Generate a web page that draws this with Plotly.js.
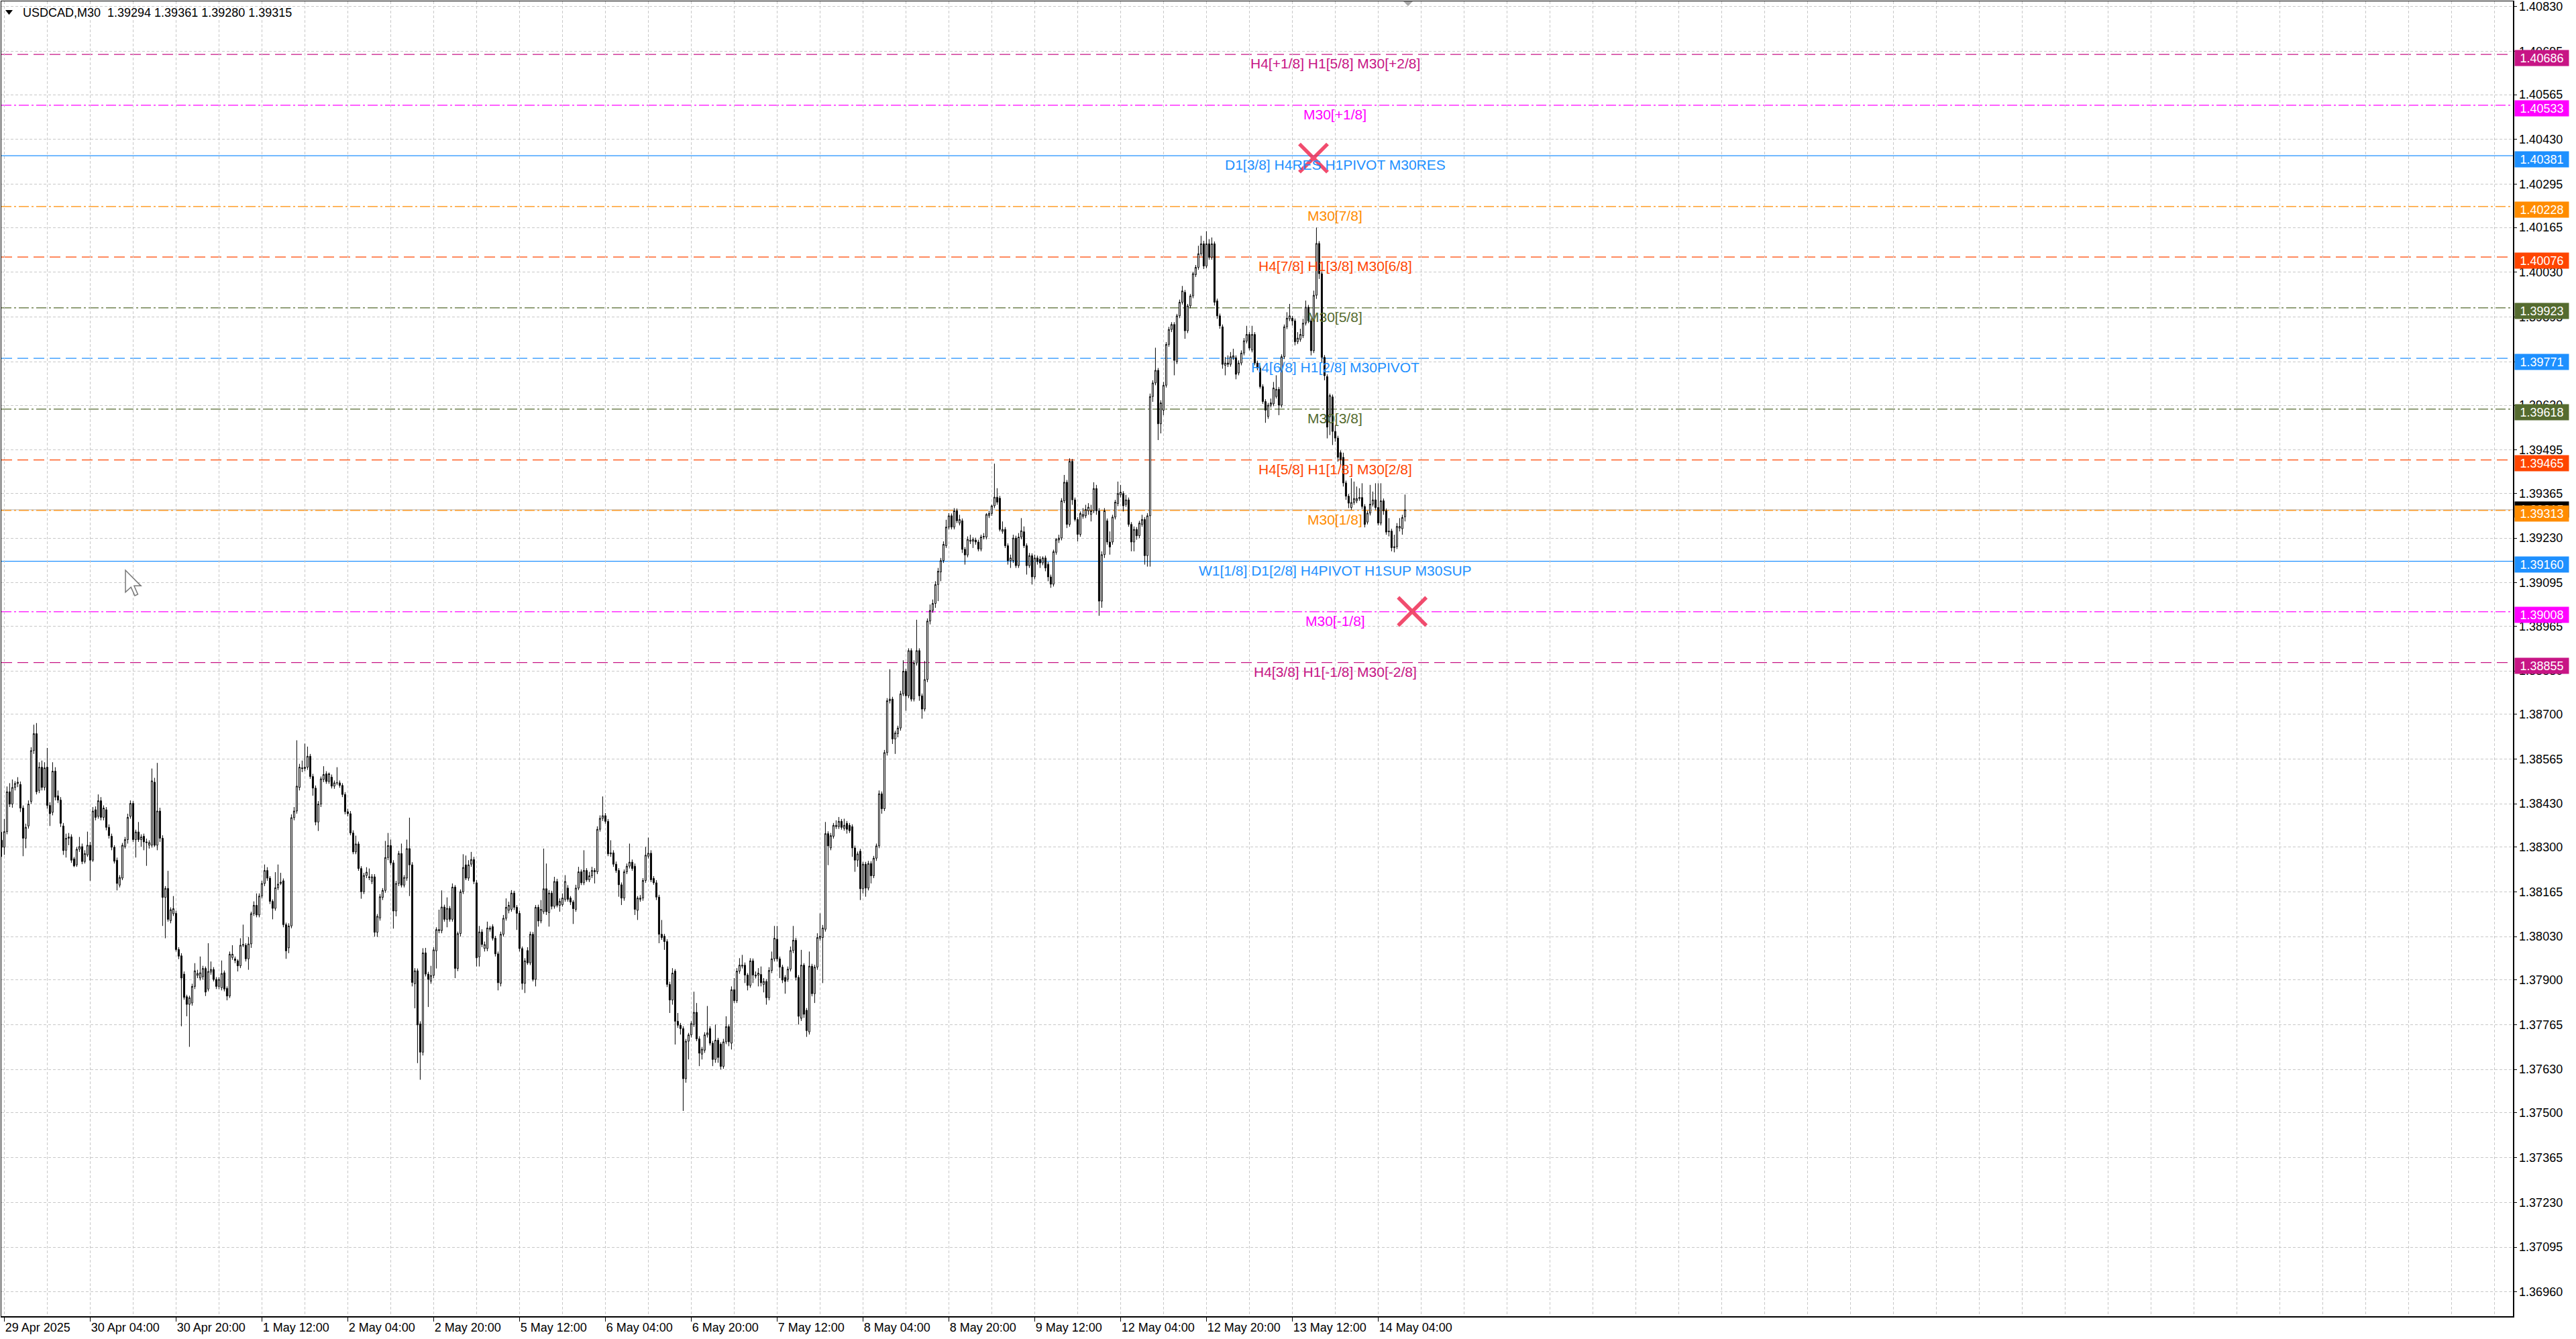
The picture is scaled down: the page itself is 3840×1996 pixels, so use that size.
<!DOCTYPE html>
<html>
<head>
<meta charset="utf-8">
<script src="https://cdn.plot.ly/plotly-3.0.1.min.js"></script>
<style>
  html, body { margin: 0; padding: 0; background: #ffffff; }
  #chart { width: 3840px; height: 1996px; }
</style>
</head>
<body>
<div id="chart"></div>
<script>
// ---------------- DATA (USDCAD, M30) ----------------
const symbolName = 'USDCAD,M30';

const openP = [
1.38320,1.38299,1.38346,1.38466,1.38429,1.38479,1.38491,1.38488,1.38417,1.38326,
1.38363,1.38437,1.38590,1.38641,1.38470,1.38540,1.38479,1.38540,1.38425,1.38404,
1.38528,1.38454,1.38441,1.38363,1.38290,1.38326,1.38330,1.38264,1.38246,1.38293,
1.38301,1.38256,1.38276,1.38305,1.38260,1.38412,1.38392,1.38439,1.38389,1.38412,
1.38359,1.38332,1.38299,1.38260,1.38185,1.38206,1.38301,1.38322,1.38392,1.38431,
1.38322,1.38345,1.38322,1.38332,1.38315,1.38305,1.38305,1.38495,1.38305,1.38408,
1.38326,1.38148,1.38175,1.38078,1.38099,1.38100,1.37991,1.37972,1.37917,1.37849,
1.37826,1.37830,1.37880,1.37913,1.37905,1.37909,1.37934,1.37872,1.37923,1.37931,
1.37901,1.37880,1.37876,1.37921,1.37874,1.37851,1.37967,1.37963,1.37957,1.37942,
1.38004,1.38004,1.37963,1.38008,1.38099,1.38124,1.38095,1.38152,1.38190,1.38229,
1.38206,1.38136,1.38115,1.38177,1.38190,1.38198,1.38066,1.37996,1.38062,1.38388,
1.38408,1.38479,1.38538,1.38536,1.38540,1.38573,1.38512,1.38477,1.38375,1.38429,
1.38503,1.38520,1.38497,1.38510,1.38483,1.38493,1.38493,1.38485,1.38458,1.38406,
1.38400,1.38342,1.38285,1.38309,1.38235,1.38165,1.38214,1.38210,1.38196,1.38210,
1.38043,1.38086,1.38148,1.38169,1.38268,1.38304,1.38252,1.38107,1.38190,1.38280,
1.38185,1.38206,1.38295,1.38246,1.37888,1.37927,1.37767,1.37682,1.37981,1.37917,
1.37896,1.37913,1.37987,1.38051,1.38048,1.38119,1.38082,1.38115,1.38082,1.38179,
1.37934,1.38039,1.38165,1.38246,1.38206,1.38248,1.38262,1.38192,1.37969,1.38044,
1.37994,1.37994,1.38052,1.38060,1.38025,1.37978,1.37889,1.38037,1.38085,1.38109,
1.38112,1.38161,1.38118,1.38100,1.37994,1.37889,1.37988,1.37951,1.38037,1.37901,
1.38118,1.38077,1.38105,1.38174,1.38102,1.38161,1.38121,1.38196,1.38124,1.38126,
1.38142,1.38176,1.38146,1.38134,1.38112,1.38176,1.38225,1.38192,1.38229,1.38201,
1.38213,1.38229,1.38225,1.38353,1.38386,1.38394,1.38377,1.38279,1.38282,1.38248,
1.38229,1.38186,1.38146,1.38225,1.38242,1.38254,1.38242,1.38109,1.38142,1.38146,
1.38199,1.38272,1.38281,1.38205,1.38192,1.38149,1.38037,1.38031,1.38015,1.37886,
1.37839,1.37926,1.37775,1.37763,1.37753,1.37602,1.37715,1.37734,1.37765,1.37802,
1.37722,1.37676,1.37688,1.37734,1.37753,1.37709,1.37660,1.37718,1.37706,1.37639,
1.37713,1.37759,1.37709,1.37870,1.37837,1.37926,1.37941,1.37944,1.37914,1.37883,
1.37957,1.37911,1.37914,1.37916,1.37886,1.37895,1.37846,1.37928,1.37963,1.38022,
1.37963,1.37938,1.37907,1.37901,1.37932,1.37988,1.38019,1.37907,1.37784,1.37944,
1.37808,1.37743,1.37941,1.37858,1.37938,1.38025,1.38027,1.38052,1.38340,1.38297,
1.38332,1.38361,1.38361,1.38377,1.38356,1.38371,1.38365,1.38361,1.38297,1.38260,
1.38287,1.38174,1.38248,1.38176,1.38250,1.38213,1.38266,1.38303,1.38460,1.38415,
1.38584,1.38740,1.38745,1.38625,1.38641,1.38658,1.38761,1.38829,1.38755,1.38891,
1.38745,1.38854,1.38891,1.38755,1.38715,1.38804,1.38980,1.39012,1.39033,1.39090,
1.39128,1.39162,1.39207,1.39263,1.39297,1.39263,1.39312,1.39275,1.39282,1.39196,
1.39179,1.39220,1.39220,1.39224,1.39218,1.39197,1.39233,1.39233,1.39297,1.39304,
1.39327,1.39353,1.39350,1.39250,1.39256,1.39207,1.39162,1.39162,1.39230,1.39147,
1.39233,1.39249,1.39207,1.39147,1.39177,1.39113,1.39170,1.39166,1.39155,1.39170,
1.39151,1.39113,1.39091,1.39187,1.39224,1.39230,1.39342,1.39398,1.39271,1.39461,
1.39345,1.39286,1.39241,1.39295,1.39297,1.39312,1.39301,1.39312,1.39379,1.39312,
1.39040,1.39180,1.39282,1.39218,1.39218,1.39293,1.39334,1.39360,1.39364,1.39331,
1.39345,1.39271,1.39218,1.39256,1.39237,1.39271,1.39286,1.39177,1.39297,1.39656,
1.39697,1.39735,1.39574,1.39615,1.39690,1.39813,1.39858,1.39873,1.39761,1.39899,
1.39940,1.39970,1.39854,1.39929,1.39959,1.40023,1.40045,1.40086,1.40116,1.40049,
1.40116,1.40075,1.40116,1.39944,1.39899,1.39866,1.39750,1.39757,1.39753,1.39773,
1.39773,1.39727,1.39757,1.39787,1.39823,1.39843,1.39796,1.39843,1.39757,1.39742,
1.39686,1.39641,1.39596,1.39630,1.39634,1.39656,1.39678,1.39630,1.39776,1.39866,
1.39890,1.39892,1.39884,1.39821,1.39828,1.39839,1.39877,1.39925,1.39884,1.39794,
1.39961,1.40117,1.40026,1.39774,1.39716,1.39595,1.39655,1.39551,1.39531,1.39487,
1.39473,1.39396,1.39356,1.39322,1.39337,1.39342,1.39349,1.39352,1.39325,1.39278,
1.39305,1.39332,1.39345,1.39322,1.39275,1.39342,1.39312,1.39251,1.39251,1.39201,
1.39204,1.39260,1.39258,1.39294
];

const highP = [
1.38345,1.38384,1.38482,1.38492,1.38503,1.38498,1.38510,1.38497,1.38425,1.38370,
1.38440,1.38600,1.38668,1.38673,1.38555,1.38560,1.38555,1.38598,1.38435,1.38555,
1.38540,1.38470,1.38450,1.38372,1.38340,1.38342,1.38338,1.38270,1.38300,1.38330,
1.38310,1.38290,1.38346,1.38315,1.38420,1.38422,1.38458,1.38450,1.38425,1.38420,
1.38368,1.38340,1.38305,1.38268,1.38215,1.38312,1.38330,1.38400,1.38440,1.38438,
1.38352,1.38375,1.38338,1.38340,1.38325,1.38320,1.38536,1.38508,1.38553,1.38418,
1.38335,1.38182,1.38228,1.38118,1.38152,1.38108,1.37998,1.37980,1.37925,1.37855,
1.37852,1.37888,1.37950,1.37930,1.37970,1.37942,1.37940,1.38010,1.37955,1.37938,
1.37908,1.37908,1.37958,1.37928,1.37880,1.37985,1.38004,1.37970,1.37962,1.38025,
1.38066,1.38010,1.38029,1.38105,1.38136,1.38160,1.38160,1.38198,1.38247,1.38239,
1.38212,1.38142,1.38224,1.38247,1.38222,1.38205,1.38072,1.38070,1.38398,1.38420,
1.38621,1.38550,1.38560,1.38611,1.38602,1.38580,1.38520,1.38485,1.38438,1.38512,
1.38543,1.38528,1.38524,1.38518,1.38500,1.38540,1.38500,1.38492,1.38465,1.38415,
1.38408,1.38350,1.38334,1.38316,1.38242,1.38222,1.38239,1.38235,1.38218,1.38218,
1.38098,1.38158,1.38176,1.38318,1.38342,1.38322,1.38260,1.38198,1.38288,1.38310,
1.38215,1.38322,1.38388,1.38254,1.37935,1.37934,1.37775,1.37995,1.37996,1.37924,
1.37942,1.37998,1.38058,1.38111,1.38169,1.38126,1.38148,1.38122,1.38190,1.38185,
1.38045,1.38172,1.38278,1.38274,1.38260,1.38285,1.38270,1.38200,1.38062,1.38052,
1.38015,1.38075,1.38062,1.38067,1.38032,1.37985,1.38045,1.38095,1.38145,1.38135,
1.38170,1.38168,1.38125,1.38108,1.38000,1.37965,1.37998,1.38045,1.38044,1.38125,
1.38126,1.38140,1.38295,1.38250,1.38170,1.38168,1.38210,1.38204,1.38145,1.38160,
1.38215,1.38185,1.38152,1.38140,1.38186,1.38240,1.38232,1.38290,1.38236,1.38225,
1.38240,1.38236,1.38362,1.38395,1.38452,1.38402,1.38384,1.38320,1.38290,1.38256,
1.38236,1.38193,1.38232,1.38250,1.38310,1.38262,1.38250,1.38152,1.38155,1.38206,
1.38300,1.38328,1.38290,1.38212,1.38200,1.38156,1.38080,1.38038,1.38022,1.37894,
1.37935,1.37932,1.37800,1.37770,1.37760,1.37722,1.37740,1.37775,1.37864,1.37830,
1.37730,1.37698,1.37742,1.37821,1.37760,1.37716,1.37765,1.37725,1.37712,1.37722,
1.37790,1.37766,1.37880,1.37905,1.37935,1.37965,1.37975,1.37952,1.37920,1.37965,
1.37964,1.37925,1.37935,1.37940,1.37905,1.37902,1.37938,1.37985,1.38062,1.38062,
1.37970,1.37945,1.37914,1.37940,1.38000,1.38062,1.38026,1.37914,1.37990,1.37950,
1.37815,1.37985,1.37948,1.37945,1.38040,1.38100,1.38065,1.38375,1.38347,1.38342,
1.38372,1.38380,1.38390,1.38384,1.38385,1.38378,1.38372,1.38368,1.38304,1.38286,
1.38294,1.38255,1.38255,1.38258,1.38257,1.38273,1.38310,1.38470,1.38467,1.38592,
1.38748,1.38835,1.38752,1.38650,1.38665,1.38770,1.38862,1.38836,1.38898,1.38898,
1.38862,1.38984,1.38898,1.38762,1.38860,1.38988,1.39030,1.39045,1.39100,1.39140,
1.39170,1.39220,1.39285,1.39305,1.39304,1.39320,1.39319,1.39300,1.39289,1.39203,
1.39235,1.39240,1.39232,1.39231,1.39225,1.39240,1.39245,1.39305,1.39312,1.39330,
1.39454,1.39380,1.39357,1.39280,1.39263,1.39214,1.39180,1.39240,1.39237,1.39245,
1.39290,1.39265,1.39214,1.39185,1.39184,1.39180,1.39177,1.39175,1.39175,1.39177,
1.39158,1.39120,1.39195,1.39230,1.39240,1.39350,1.39420,1.39405,1.39470,1.39468,
1.39352,1.39293,1.39310,1.39320,1.39330,1.39335,1.39330,1.39398,1.39390,1.39320,
1.39190,1.39320,1.39289,1.39250,1.39300,1.39345,1.39400,1.39390,1.39371,1.39360,
1.39352,1.39278,1.39265,1.39263,1.39282,1.39300,1.39293,1.39305,1.39665,1.39705,
1.39803,1.39742,1.39645,1.39700,1.39820,1.39866,1.39880,1.39880,1.39905,1.39948,
1.39989,1.39977,1.39935,1.39965,1.40032,1.40052,1.40110,1.40140,1.40125,1.40154,
1.40130,1.40135,1.40123,1.39951,1.39906,1.39873,1.39775,1.39780,1.39790,1.39800,
1.39780,1.39765,1.39795,1.39832,1.39869,1.39850,1.39869,1.39850,1.39764,1.39749,
1.39693,1.39648,1.39637,1.39650,1.39700,1.39720,1.39685,1.39783,1.39873,1.39910,
1.39935,1.39899,1.39891,1.39850,1.39860,1.39890,1.39945,1.39932,1.39891,1.39975,
1.40165,1.40124,1.40033,1.39781,1.39723,1.39665,1.39662,1.39570,1.39538,1.39494,
1.39487,1.39403,1.39363,1.39410,1.39400,1.39385,1.39380,1.39395,1.39332,1.39312,
1.39390,1.39370,1.39395,1.39395,1.39395,1.39349,1.39319,1.39290,1.39258,1.39240,
1.39275,1.39290,1.39300,1.39361
];

const lowP = [
1.38270,1.38276,1.38338,1.38420,1.38418,1.38470,1.38480,1.38405,1.38272,1.38296,
1.38355,1.38430,1.38580,1.38458,1.38462,1.38470,1.38470,1.38415,1.38363,1.38395,
1.38440,1.38432,1.38360,1.38276,1.38268,1.38305,1.38252,1.38239,1.38240,1.38285,
1.38248,1.38250,1.38270,1.38198,1.38255,1.38380,1.38385,1.38380,1.38380,1.38350,
1.38325,1.38290,1.38250,1.38169,1.38178,1.38200,1.38295,1.38310,1.38385,1.38315,
1.38268,1.38315,1.38300,1.38290,1.38243,1.38295,1.38298,1.38300,1.38290,1.38315,
1.38062,1.38025,1.38075,1.38070,1.38092,1.37985,1.37962,1.37760,1.37840,1.37790,
1.37698,1.37822,1.37872,1.37905,1.37898,1.37900,1.37851,1.37865,1.37915,1.37895,
1.37872,1.37872,1.37868,1.37865,1.37838,1.37845,1.37960,1.37950,1.37925,1.37935,
1.37998,1.37955,1.37930,1.37996,1.38092,1.38088,1.38088,1.38145,1.38182,1.38198,
1.38128,1.38082,1.38108,1.38170,1.38185,1.38058,1.37963,1.37980,1.38055,1.38380,
1.38400,1.38470,1.38525,1.38528,1.38532,1.38505,1.38454,1.38365,1.38348,1.38420,
1.38495,1.38490,1.38490,1.38476,1.38475,1.38486,1.38478,1.38450,1.38398,1.38392,
1.38335,1.38278,1.38278,1.38228,1.38144,1.38158,1.38206,1.38200,1.38188,1.38030,
1.38029,1.38078,1.38140,1.38162,1.38260,1.38245,1.38054,1.38091,1.38182,1.38178,
1.38178,1.38198,1.38152,1.37880,1.37814,1.37649,1.37599,1.37672,1.37910,1.37818,
1.37888,1.37905,1.37934,1.38040,1.38040,1.38075,1.38058,1.38075,1.38075,1.37905,
1.37926,1.38030,1.38158,1.38200,1.38198,1.38240,1.38188,1.37940,1.37940,1.37998,
1.37985,1.37986,1.38045,1.38018,1.37970,1.37868,1.37880,1.38030,1.38078,1.38100,
1.38105,1.38110,1.38050,1.37985,1.37870,1.37860,1.37945,1.37944,1.37895,1.37880,
1.38060,1.38070,1.38098,1.38095,1.38060,1.38112,1.38114,1.38118,1.38105,1.38120,
1.38135,1.38135,1.38125,1.38068,1.38105,1.38170,1.38185,1.38185,1.38195,1.38194,
1.38206,1.38190,1.38218,1.38346,1.38378,1.38370,1.38272,1.38270,1.38240,1.38222,
1.38150,1.38125,1.38138,1.38218,1.38235,1.38228,1.38095,1.38080,1.38135,1.38138,
1.38192,1.38265,1.38194,1.38186,1.38140,1.38010,1.38020,1.37990,1.37878,1.37800,
1.37825,1.37705,1.37755,1.37735,1.37505,1.37590,1.37660,1.37726,1.37758,1.37715,
1.37640,1.37660,1.37680,1.37726,1.37702,1.37640,1.37650,1.37650,1.37630,1.37632,
1.37706,1.37700,1.37690,1.37830,1.37830,1.37918,1.37934,1.37890,1.37868,1.37876,
1.37890,1.37904,1.37880,1.37880,1.37862,1.37825,1.37838,1.37920,1.37955,1.37955,
1.37905,1.37890,1.37858,1.37894,1.37925,1.37980,1.37898,1.37765,1.37776,1.37785,
1.37728,1.37735,1.37850,1.37830,1.37930,1.38018,1.37890,1.38045,1.38245,1.38290,
1.38325,1.38354,1.38354,1.38352,1.38349,1.38340,1.38342,1.38270,1.38225,1.38240,
1.38140,1.38160,1.38150,1.38169,1.38190,1.38206,1.38258,1.38296,1.38400,1.38408,
1.38575,1.38732,1.38610,1.38580,1.38630,1.38650,1.38754,1.38710,1.38748,1.38738,
1.38738,1.38846,1.38740,1.38686,1.38708,1.38796,1.38970,1.39005,1.39020,1.39040,
1.39100,1.39155,1.39200,1.39256,1.39256,1.39256,1.39275,1.39268,1.39185,1.39150,
1.39172,1.39212,1.39200,1.39210,1.39190,1.39190,1.39226,1.39226,1.39290,1.39297,
1.39320,1.39330,1.39250,1.39243,1.39200,1.39150,1.39140,1.39155,1.39140,1.39140,
1.39226,1.39200,1.39120,1.39140,1.39090,1.39106,1.39150,1.39140,1.39148,1.39130,
1.39100,1.39080,1.39084,1.39180,1.39215,1.39223,1.39335,1.39260,1.39264,1.39330,
1.39280,1.39220,1.39234,1.39288,1.39290,1.39300,1.39280,1.39305,1.39300,1.38996,
1.39020,1.39170,1.39210,1.39180,1.39210,1.39286,1.39326,1.39352,1.39310,1.39324,
1.39264,1.39190,1.39190,1.39225,1.39230,1.39264,1.39150,1.39144,1.39144,1.39640,
1.39690,1.39525,1.39545,1.39600,1.39683,1.39806,1.39850,1.39720,1.39754,1.39892,
1.39933,1.39830,1.39847,1.39922,1.39952,1.40016,1.40038,1.40079,1.40040,1.40042,
1.40068,1.40068,1.39930,1.39890,1.39860,1.39740,1.39720,1.39745,1.39746,1.39766,
1.39708,1.39720,1.39750,1.39780,1.39816,1.39795,1.39789,1.39750,1.39735,1.39680,
1.39634,1.39577,1.39589,1.39623,1.39627,1.39650,1.39600,1.39623,1.39769,1.39859,
1.39883,1.39870,1.39810,1.39814,1.39821,1.39832,1.39870,1.39877,1.39780,1.39787,
1.39950,1.40010,1.39760,1.39705,1.39530,1.39540,1.39510,1.39520,1.39460,1.39450,
1.39385,1.39345,1.39320,1.39315,1.39330,1.39335,1.39342,1.39318,1.39262,1.39271,
1.39298,1.39325,1.39315,1.39268,1.39268,1.39300,1.39240,1.39235,1.39190,1.39187,
1.39197,1.39250,1.39240,1.39280
];

const closeP = [
1.38299,1.38346,1.38466,1.38429,1.38479,1.38491,1.38495,1.38417,1.38326,1.38359,
1.38429,1.38590,1.38641,1.38466,1.38540,1.38479,1.38538,1.38425,1.38400,1.38528,
1.38450,1.38441,1.38371,1.38289,1.38326,1.38330,1.38260,1.38243,1.38293,1.38301,
1.38256,1.38280,1.38305,1.38260,1.38408,1.38389,1.38439,1.38389,1.38417,1.38359,
1.38334,1.38299,1.38257,1.38190,1.38208,1.38305,1.38322,1.38389,1.38431,1.38322,
1.38345,1.38322,1.38330,1.38315,1.38313,1.38313,1.38499,1.38305,1.38408,1.38326,
1.38148,1.38175,1.38082,1.38111,1.38114,1.37991,1.37971,1.37905,1.37847,1.37826,
1.37846,1.37880,1.37927,1.37919,1.37921,1.37934,1.37863,1.37925,1.37931,1.37901,
1.37880,1.37901,1.37919,1.37872,1.37851,1.37977,1.37977,1.37958,1.37942,1.38004,
1.38006,1.37963,1.38008,1.38099,1.38124,1.38095,1.38152,1.38190,1.38229,1.38206,
1.38136,1.38115,1.38177,1.38188,1.38194,1.38066,1.37987,1.38062,1.38388,1.38408,
1.38483,1.38540,1.38536,1.38540,1.38573,1.38512,1.38477,1.38375,1.38429,1.38505,
1.38518,1.38497,1.38520,1.38483,1.38493,1.38493,1.38485,1.38458,1.38406,1.38400,
1.38342,1.38285,1.38309,1.38235,1.38165,1.38214,1.38224,1.38208,1.38210,1.38043,
1.38091,1.38150,1.38169,1.38268,1.38304,1.38252,1.38107,1.38190,1.38280,1.38185,
1.38208,1.38295,1.38246,1.37892,1.37927,1.37764,1.37682,1.37981,1.37917,1.37901,
1.37913,1.37990,1.38051,1.38048,1.38119,1.38082,1.38115,1.38082,1.38179,1.37934,
1.38039,1.38165,1.38238,1.38206,1.38246,1.38262,1.38196,1.37966,1.38044,1.38006,
1.38006,1.38056,1.38056,1.38025,1.37978,1.37891,1.38037,1.38085,1.38118,1.38124,
1.38161,1.38118,1.38100,1.37994,1.37889,1.37957,1.37951,1.38037,1.37901,1.38118,
1.38077,1.38112,1.38174,1.38105,1.38161,1.38121,1.38196,1.38124,1.38136,1.38146,
1.38196,1.38142,1.38134,1.38114,1.38176,1.38225,1.38192,1.38229,1.38201,1.38213,
1.38229,1.38225,1.38353,1.38386,1.38394,1.38377,1.38279,1.38282,1.38248,1.38229,
1.38186,1.38146,1.38225,1.38242,1.38254,1.38235,1.38112,1.38146,1.38146,1.38199,
1.38275,1.38281,1.38201,1.38192,1.38149,1.38037,1.38027,1.38015,1.37886,1.37839,
1.37920,1.37775,1.37763,1.37753,1.37602,1.37715,1.37734,1.37768,1.37802,1.37722,
1.37679,1.37691,1.37734,1.37740,1.37709,1.37660,1.37718,1.37666,1.37639,1.37713,
1.37759,1.37713,1.37870,1.37837,1.37926,1.37944,1.37944,1.37914,1.37883,1.37957,
1.37914,1.37914,1.37920,1.37891,1.37895,1.37846,1.37928,1.37963,1.38025,1.37963,
1.37938,1.37899,1.37895,1.37932,1.37988,1.38019,1.37907,1.37790,1.37944,1.37796,
1.37747,1.37941,1.37858,1.37938,1.38027,1.38031,1.38056,1.38340,1.38303,1.38334,
1.38365,1.38365,1.38377,1.38359,1.38365,1.38353,1.38349,1.38297,1.38260,1.38279,
1.38174,1.38248,1.38176,1.38250,1.38213,1.38266,1.38303,1.38460,1.38415,1.38584,
1.38740,1.38745,1.38625,1.38643,1.38658,1.38761,1.38829,1.38755,1.38891,1.38745,
1.38854,1.38891,1.38755,1.38715,1.38804,1.38980,1.39012,1.39033,1.39090,1.39130,
1.39162,1.39211,1.39263,1.39297,1.39263,1.39312,1.39282,1.39286,1.39196,1.39179,
1.39226,1.39224,1.39226,1.39218,1.39197,1.39233,1.39235,1.39301,1.39304,1.39327,
1.39353,1.39338,1.39256,1.39256,1.39207,1.39162,1.39170,1.39230,1.39147,1.39233,
1.39252,1.39207,1.39147,1.39177,1.39113,1.39170,1.39159,1.39155,1.39170,1.39140,
1.39113,1.39091,1.39189,1.39226,1.39230,1.39342,1.39398,1.39271,1.39461,1.39345,
1.39286,1.39241,1.39304,1.39301,1.39316,1.39323,1.39312,1.39379,1.39312,1.39040,
1.39180,1.39312,1.39218,1.39203,1.39293,1.39338,1.39364,1.39368,1.39327,1.39345,
1.39271,1.39218,1.39256,1.39237,1.39275,1.39286,1.39177,1.39297,1.39656,1.39697,
1.39735,1.39574,1.39637,1.39690,1.39813,1.39858,1.39873,1.39765,1.39899,1.39940,
1.39974,1.39854,1.39929,1.39959,1.40026,1.40045,1.40086,1.40116,1.40049,1.40116,
1.40075,1.40116,1.39940,1.39899,1.39869,1.39753,1.39757,1.39753,1.39776,1.39779,
1.39723,1.39757,1.39787,1.39824,1.39843,1.39802,1.39843,1.39757,1.39742,1.39686,
1.39641,1.39615,1.39630,1.39637,1.39682,1.39678,1.39630,1.39776,1.39866,1.39892,
1.39899,1.39884,1.39821,1.39832,1.39843,1.39877,1.39925,1.39884,1.39794,1.39961,
1.40117,1.40026,1.39774,1.39719,1.39564,1.39659,1.39551,1.39531,1.39473,1.39467,
1.39396,1.39356,1.39335,1.39337,1.39349,1.39349,1.39352,1.39325,1.39271,1.39305,
1.39332,1.39345,1.39322,1.39275,1.39342,1.39312,1.39248,1.39249,1.39201,1.39204,
1.39265,1.39265,1.39292,1.39315
];

// time axis labels (one every 32 bars, first label on bar 1)
const timeLabels = ['29 Apr 2025','30 Apr 04:00','30 Apr 20:00','1 May 12:00','2 May 04:00',
  '2 May 20:00','5 May 12:00','6 May 04:00','6 May 20:00','7 May 12:00','8 May 04:00',
  '8 May 20:00','9 May 12:00','12 May 04:00','12 May 20:00','13 May 12:00','14 May 04:00'];

// price scale labels
const priceTicks = [1.40830,1.40695,1.40565,1.40430,1.40295,1.40165,1.40030,1.39895,1.39760,
  1.39630,1.39495,1.39365,1.39230,1.39095,1.38965,1.38830,1.38700,1.38565,1.38430,1.38300,
  1.38165,1.38030,1.37900,1.37765,1.37630,1.37500,1.37365,1.37230,1.37095,1.36960];

// Murrey-math levels
const levelPrices = [1.40686,1.40533,1.40381,1.40228,1.40076,1.39923,1.39771,1.39618,
  1.39465,1.39313,1.39160,1.39008,1.38855];
const levelNames = ['H4[+1/8] H1[5/8] M30[+2/8]','M30[+1/8]','D1[3/8] H4RES H1PIVOT M30RES',
  'M30[7/8]','H4[7/8] H1[3/8] M30[6/8]','M30[5/8]','H4[6/8] H1[2/8] M30PIVOT','M30[3/8]',
  'H4[5/8] H1[1/8] M30[2/8]','M30[1/8]','W1[1/8] D1[2/8] H4PIVOT H1SUP M30SUP','M30[-1/8]',
  'H4[3/8] H1[-1/8] M30[-2/8]'];

// current bid
const bidPrice = 1.39315;

// signal crosses (bar index, price)
const crossBars = [488.9, 525.7];
const crossPrices = [1.40374, 1.39009];

// ---------------- STYLE ----------------
const VIOLET = '#C71585', MAGENTA = '#FF00FF', BLUE = '#1E90FF', ORANGE = '#FF8C00',
      ORED = '#FF4500', OLIVE = '#556B2F';
const DASHED = '16px,8px', DASHDOT = '15px,4px,3px,4px', SOLID = 'solid';
const levelColors = [VIOLET, MAGENTA, BLUE, ORANGE, ORED, OLIVE, BLUE, OLIVE, ORED, ORANGE, BLUE, MAGENTA, VIOLET];
const levelDashes = [DASHED, DASHDOT, SOLID, DASHDOT, DASHED, DASHDOT, DASHED, DASHDOT, DASHED, DASHDOT, SOLID, DASHDOT, DASHED];

const W = 3840, H = 1996;
const M = {l: 2, r: 94, t: 2, b: 34};
const PW = W - M.l - M.r, PH = H - M.t - M.b;
const FONT = 'Liberation Sans, Arial, Helvetica, sans-serif';
const GRID = '#C8C8C8';

// pixel -> paper helpers for decorations
const px = X => (X - M.l) / PW;
const py = Y => 1 - (Y - M.t) / PH;

const xs = closeP.map((_, i) => i);
const tickBars = timeLabels.map((_, k) => 1 + 32 * k);

const traces = [
  {
    type: 'candlestick',
    x: xs, open: openP, high: highP, low: lowP, close: closeP,
    increasing: {line: {color: '#000000', width: 1}, fillcolor: '#FFFFFF'},
    decreasing: {line: {color: '#000000', width: 1}, fillcolor: '#000000'},
    whiskerwidth: 0,
    hoverinfo: 'skip',
    showlegend: false
  },
  {
    type: 'scatter', mode: 'markers',
    x: crossBars, y: crossPrices,
    marker: {symbol: 'x-thin', size: 42, color: 'rgba(238,45,85,0.85)',
             line: {width: 5.5, color: 'rgba(238,45,85,0.85)'}},
    hoverinfo: 'skip', showlegend: false, cliponaxis: false
  }
];

const shapes = [];
// bid line
shapes.push({type: 'line', xref: 'paper', x0: 0, x1: 1, yref: 'y', y0: bidPrice, y1: bidPrice,
  line: {color: '#C0C0C0', width: 1.2}, layer: 'below'});
levelPrices.forEach((p, i) => {
  shapes.push({type: 'line', xref: 'paper', x0: 0, x1: 1, yref: 'y', y0: p, y1: p,
    line: {color: levelColors[i], width: 1.3, dash: levelDashes[i]}, layer: 'below'});
});

// header triangle
shapes.push({type: 'path', xref: 'paper', yref: 'paper',
  path: `M${px(8)},${py(15)} L${px(19)},${py(15)} L${px(13.5)},${py(22)} Z`,
  fillcolor: '#000', line: {width: 0}});
// chart shift marker at top
shapes.push({type: 'path', xref: 'paper', yref: 'paper',
  path: `M${px(2092)},${py(2)} L${px(2106)},${py(2)} L${px(2099)},${py(9)} Z`,
  fillcolor: '#A8A8A8', line: {width: 0}});
// mouse cursor
const cur = [[0,0],[0,16],[4,12.3],[6.8,18.5],[9,17.5],[6.3,11.4],[11.3,11.4]];
const cx = 187, cy = 850, cs = 2.05;
shapes.push({type: 'path', xref: 'paper', yref: 'paper',
  path: cur.map((q, i) => (i ? 'L' : 'M') + px(cx + q[0] * cs) + ',' + py(cy + q[1] * cs)).join(' ') + ' Z',
  fillcolor: '#FFFFFF', line: {color: '#777777', width: 1.5}});

const annotations = [];
// header
const last = closeP.length - 1;
annotations.push({
  xref: 'paper', yref: 'paper', x: px(32), y: py(19), xanchor: 'left', yanchor: 'middle',
  text: symbolName + '\u00a0\u00a0' + [openP[last], highP[last], lowP[last], closeP[last]].map(v => v.toFixed(5)).join(' '),
  showarrow: false, font: {family: FONT, size: 18, color: '#000'}
});
// level labels
const labelX = px(1990);
levelPrices.forEach((p, i) => {
  annotations.push({
    xref: 'paper', yref: 'y', x: labelX, y: p, xanchor: 'center', yanchor: 'top', yshift: 0,
    text: levelNames[i], showarrow: false,
    font: {family: FONT, size: 21, color: levelColors[i]}
  });
});
// bid box (drawn first so level boxes overlay it)
annotations.push({
  xref: 'paper', yref: 'y', x: 1, y: bidPrice, xanchor: 'left', yanchor: 'middle', xshift: 2, yshift: 0,
  text: bidPrice.toFixed(5), showarrow: false, bgcolor: '#000000', width: 76, height: 19, borderpad: 2,
  font: {family: FONT, size: 18, color: '#FFFFFF'}
});
levelPrices.forEach((p, i) => {
  annotations.push({
    xref: 'paper', yref: 'y', x: 1, y: p, xanchor: 'left', yanchor: 'middle', xshift: 2, yshift: -5,
    text: p.toFixed(5), showarrow: false, bgcolor: levelColors[i], width: 76, height: 19, borderpad: 2,
    font: {family: FONT, size: 18, color: '#FFFFFF'}
  });
});

const layout = {
  width: W, height: H, autosize: false,
  margin: M,
  paper_bgcolor: '#FFFFFF', plot_bgcolor: '#FFFFFF',
  showlegend: false,
  xaxis: {
    type: 'linear',
    range: [-0.1, -0.1 + PW / 4],
    tickmode: 'array', tickvals: tickBars, ticktext: timeLabels,
    ticks: 'outside', ticklen: 6, tickcolor: '#000', tickwidth: 1,
    ticklabelposition: 'outside right',
    tickfont: {family: FONT, size: 18, color: '#000'},
    showgrid: true, gridcolor: GRID, griddash: '4px,3px', gridwidth: 1,
    minor: {tickmode: 'linear', tick0: 1, dtick: 16, showgrid: true, gridcolor: GRID, griddash: '4px,3px', gridwidth: 1, ticks: ''},
    showline: true, linecolor: '#000', linewidth: 1.5, mirror: true,
    zeroline: false, fixedrange: true,
    rangeslider: {visible: false}
  },
  yaxis: {
    side: 'right',
    range: [1.36887, 1.40846],
    tickmode: 'array', tickvals: priceTicks, ticktext: priceTicks.map(v => v.toFixed(5)),
    ticks: 'outside', ticklen: 4, tickcolor: '#000',
    tickfont: {family: FONT, size: 18, color: '#000'},
    showgrid: true, gridcolor: GRID, griddash: '4px,3px', gridwidth: 1,
    showline: true, linecolor: '#000', linewidth: 1.5, mirror: true,
    zeroline: false, fixedrange: true
  },
  shapes: shapes,
  annotations: annotations
};

Plotly.newPlot('chart', traces, layout, {staticPlot: true, displayModeBar: false});
</script>
</body>
</html>
